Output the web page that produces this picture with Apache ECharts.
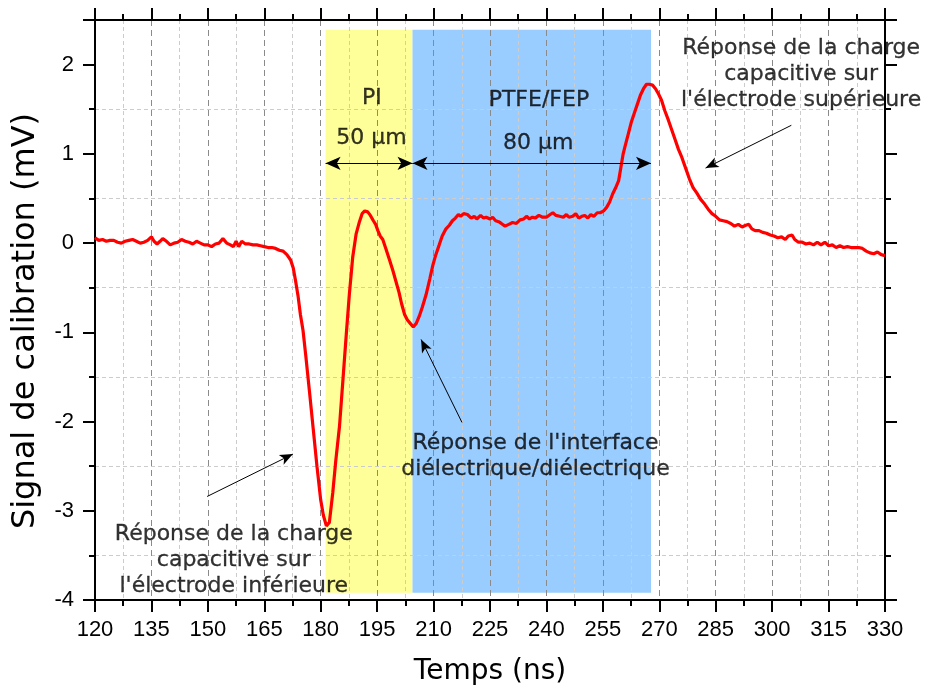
<!DOCTYPE html>
<html>
<head>
<meta charset="utf-8">
<script src="https://cdn.jsdelivr.net/npm/echarts@6/dist/echarts.min.js"></script>
<style>
  html, body { margin: 0; padding: 0; background: #ffffff; }
  #chart { width: 928px; height: 691px; }
</style>
</head>
<body>
<div id="chart"></div>
<script>
// Calibration pulse: time (ns) and measured signal (mV)
const timeNs = [
  120, 121, 122, 123, 124, 125, 126, 127, 128, 129,
  130, 131, 132, 133, 134, 135, 135.7, 136.5, 137.3, 138,
  139, 140, 141, 142, 143, 144, 145, 146, 147, 148,
  149, 150, 151, 152, 153, 154, 155, 156, 156.8, 157.5,
  158.2, 159, 160, 161, 162, 163, 164, 165, 166, 167,
  168, 169, 170, 171, 172, 172.7, 173.3, 174, 174.6, 175.3,
  176, 177, 178, 179, 180, 180.7, 181.5, 182.3, 183.2, 184,
  185, 186, 186.8, 187.6, 188.5, 189.4, 190.3, 191, 191.7, 192.5,
  193.2, 194, 194.6, 195.2, 195.8, 196.5, 197.3, 198.3, 199.2, 200,
  200.8, 201.5, 202.3, 203, 203.8, 204.6, 205.4, 206.2, 207, 208,
  209, 209.8, 210.6, 211.5, 212.3, 213.3, 214.2, 215, 215.8, 216.6,
  217.2, 218, 219, 220, 220.8, 221.5, 222.5, 223.3, 224, 225,
  225.7, 226.5, 227.3, 228, 229, 230, 231, 232, 233, 234,
  234.7, 235.5, 236.3, 237, 238, 239, 240, 241, 241.7, 242.5,
  243.5, 244.5, 245.3, 246, 247, 247.8, 248.6, 249.4, 250.2, 251,
  251.8, 252.6, 253.5, 254.3, 255.2, 256, 256.8, 257.6, 258.4, 259.2,
  259.8, 260.4, 261, 261.8, 262.6, 263.4, 264.2, 265, 265.8, 266.6,
  267.4, 268.2, 269, 269.8, 270.6, 271.5, 272.4, 273.3, 274.2, 275.1,
  276, 277, 278, 279, 280, 281, 282, 283, 284, 285,
  286, 287, 288, 289, 290, 291, 292, 293, 293.8, 294.6,
  295.5, 296.5, 297.5, 298.5, 299.5, 300.5, 301.5, 302.5, 303.5, 304.3,
  305.3, 306, 307, 308, 309, 310, 311, 312, 313, 314,
  315, 316, 317, 318, 319, 320, 321, 322, 323, 324,
  325, 326, 327, 328, 329, 330
];
const signalMv = [
  0.06, 0.03, 0.04, 0.02, 0.03, 0.03, 0.01, 0.00, 0.02, 0.03,
  0.04, 0.02, 0.00, 0.01, 0.03, 0.07, 0.02, -0.01, 0.02, 0.05,
  0.02, -0.02, 0.00, 0.01, 0.04, 0.02, 0.01, -0.01, 0.02, 0.00,
  -0.02, -0.02, -0.04, -0.01, 0.00, 0.05, 0.00, -0.02, -0.04, 0.02,
  -0.04, 0.02, -0.01, -0.01, -0.02, -0.02, -0.03, -0.04, -0.05, -0.05,
  -0.06, -0.08, -0.09, -0.13, -0.19, -0.28, -0.42, -0.60, -0.80, -0.98,
  -1.25, -1.66, -2.08, -2.50, -2.88, -3.05, -3.17, -3.13, -2.80, -2.44,
  -2.05, -1.48, -1.02, -0.58, -0.16, 0.10, 0.24, 0.33, 0.36, 0.35,
  0.31, 0.25, 0.21, 0.14, 0.08, 0.04, -0.06, -0.19, -0.31, -0.43,
  -0.55, -0.68, -0.80, -0.86, -0.90, -0.94, -0.90, -0.82, -0.72, -0.58,
  -0.40, -0.25, -0.13, -0.02, 0.08, 0.16, 0.20, 0.25, 0.28, 0.32,
  0.30, 0.33, 0.32, 0.28, 0.30, 0.27, 0.31, 0.28, 0.29, 0.27,
  0.29, 0.25, 0.24, 0.22, 0.19, 0.21, 0.23, 0.22, 0.26, 0.27,
  0.30, 0.27, 0.29, 0.28, 0.31, 0.29, 0.29, 0.32, 0.34, 0.31,
  0.30, 0.29, 0.32, 0.29, 0.30, 0.33, 0.28, 0.30, 0.31, 0.28,
  0.32, 0.30, 0.34, 0.34, 0.36, 0.40, 0.46, 0.55, 0.62, 0.70,
  0.85, 1.00, 1.10, 1.23, 1.36, 1.46, 1.56, 1.66, 1.73, 1.78,
  1.78, 1.77, 1.73, 1.67, 1.60, 1.48, 1.38, 1.27, 1.16, 1.05,
  0.96, 0.84, 0.72, 0.62, 0.56, 0.49, 0.44, 0.38, 0.33, 0.30,
  0.26, 0.25, 0.24, 0.22, 0.19, 0.21, 0.18, 0.20, 0.21, 0.16,
  0.14, 0.14, 0.12, 0.11, 0.09, 0.08, 0.06, 0.07, 0.04, 0.08,
  0.09, 0.04, 0.01, 0.01, -0.01, 0.00, -0.02, 0.01, -0.02, 0.01,
  -0.03, -0.02, -0.05, -0.03, -0.05, -0.04, -0.05, -0.05, -0.05, -0.06,
  -0.09, -0.11, -0.12, -0.10, -0.13, -0.14
];

// Axis ranges
const xRange = [120, 330];
const xStep = 15;
const yRange = [-4, 2.5];
const yStep = 1;

// Dielectric layers (time span in ns) and vertical extent of the shading (mV)
const layerNames = ['PI', 'PTFE/FEP'];
const layerStartNs = [181.3, 204.4];
const layerEndNs = [204.4, 267.8];
const layerTopMv = 2.39;
const layerBottomMv = -3.92;

// Thickness arrows: spans (ns) drawn at one signal level (mV)
const thicknessLabels = ['50 µm', '80 µm'];
const thicknessArrowMv = 0.894;

// Text labels: [time, signal] anchor of each text block
const noteTexts = [
  'PI',
  '50 µm',
  'PTFE/FEP',
  '80 µm',
  'Réponse de la charge\ncapacitive sur\nl\'électrode supérieure',
  'Réponse de l\'interface\ndiélectrique/diélectrique',
  'Réponse de la charge\ncapacitive sur\nl\'électrode inférieure'
];
const noteTimeNs = [193.6, 193.5, 238.0, 237.8, 307.7, 237.1, 156.9];
const noteSignalMv = [1.62, 1.17, 1.60, 1.12, 1.89, -2.39, -3.56];

// Pointer arrows: tail -> head, in [ns, mV]
const pointerTails = [[305.1, 1.32], [217.55, -2.01], [149.8, -2.84]];
const pointerHeads = [[282.3, 0.84], [206.68, -1.08], [172.6, -2.365]];

const axisTitleX = 'Temps (ns)';
const axisTitleY = 'Signal de calibration (mV)';

const chart = echarts.init(document.getElementById('chart'), null, { renderer: 'canvas' });

const tickFont = '"Liberation Sans", Arial, sans-serif';
const textFont = '"DejaVu Sans", Verdana, sans-serif';

const layerColors = ['#ffff99', '#99ccff'];

const axisCommon = {
  type: 'value',
  z: 2,
  axisLine: { show: true, onZero: false, lineStyle: { color: '#000', width: 2 } },
  axisTick: { show: true, inside: false, length: 12, lineStyle: { color: '#000', width: 2 } },
  minorTick: { show: true, splitNumber: 2, length: 6, lineStyle: { color: '#000', width: 2 } }
};

const signalPoints = timeNs.map((t, i) => [t, signalMv[i]]);

const option = {
  animation: false,
  backgroundColor: '#ffffff',
  grid: { left: 95, right: 43, top: 20, bottom: 88, containLabel: false },
  graphic: [
    {
      type: 'text',
      x: 26,
      y: 321,
      rotation: Math.PI / 2,
      silent: true,
      style: {
        text: axisTitleY,
        fontFamily: textFont,
        fontSize: 32,
        fill: '#000',
        align: 'center',
        verticalAlign: 'middle'
      }
    }
  ],
  xAxis: [
    Object.assign({}, axisCommon, {
      position: 'bottom',
      min: xRange[0], max: xRange[1], interval: xStep,
      name: axisTitleX,
      nameLocation: 'middle',
      nameGap: 58,
      nameTextStyle: { fontFamily: textFont, fontSize: 28, color: '#000' },
      axisLabel: { show: true, margin: 19, fontFamily: tickFont, fontSize: 22, color: '#000' },
      splitLine: { show: true, lineStyle: { color: '#8a8a8a', width: 1, type: [6, 4] } },
      minorSplitLine: { show: true, lineStyle: { color: '#cccccc', width: 1, type: [4, 3] } }
    }),
    Object.assign({}, axisCommon, {
      position: 'top',
      min: xRange[0], max: xRange[1], interval: xStep,
      axisLabel: { show: false },
      splitLine: { show: false }
    })
  ],
  yAxis: [
    Object.assign({}, axisCommon, {
      position: 'left',
      min: yRange[0], max: yRange[1], interval: yStep,
      axisLabel: { show: true, margin: 21, fontFamily: tickFont, fontSize: 22, color: '#000', showMaxLabel: false },
      splitLine: { show: false },
      minorSplitLine: { show: true, lineStyle: { color: '#cccccc', width: 1, type: [4, 3] } }
    }),
    Object.assign({}, axisCommon, {
      position: 'right',
      min: yRange[0], max: yRange[1], interval: yStep,
      axisLabel: { show: false },
      splitLine: { show: false }
    })
  ],
  series: [
    {
      // layer shading
      type: 'line',
      z: 1,
      data: [],
      silent: true,
      markArea: {
        z: 1,
        silent: true,
        label: { show: false },
        data: layerNames.map((n, i) => [
          { name: n, coord: [layerStartNs[i], layerTopMv], itemStyle: { color: layerColors[i], opacity: 1 } },
          { coord: [layerEndNs[i], layerBottomMv] }
        ])
      }
    },
    {
      // signal trace
      type: 'line',
      z: 4,
      data: signalPoints,
      showSymbol: false,
      symbol: 'none',
      smooth: false,
      lineStyle: { color: '#ff0000', width: 3.2 },
      silent: true,
      markLine: {
        z: 5,
        silent: true,
        animation: false,
        label: { show: false },
        emphasis: { disabled: true },
        data: [
          // double-headed thickness arrows
          ...thicknessLabels.map((lbl, i) => [
            { name: lbl, coord: [layerStartNs[i], thicknessArrowMv], symbol: 'arrow', symbolSize: [10, 15] },
            { coord: [layerEndNs[i], thicknessArrowMv], symbol: 'arrow', symbolSize: [10, 15] }
          ]),
          // single-headed pointers
          ...pointerTails.map((tail, i) => [
            { coord: tail, symbol: 'none' },
            { coord: pointerHeads[i], symbol: 'arrow', symbolSize: [8, 13] }
          ])
        ],
        lineStyle: { color: '#000', width: 1, type: 'solid' }
      }
    },
    {
      // annotations
      type: 'scatter',
      z: 6,
      silent: true,
      symbolSize: 0,
      itemStyle: { color: 'transparent' },
      data: noteTexts.map((txt, i) => ({
        value: [noteTimeNs[i], noteSignalMv[i]],
        label: {
          show: true,
          position: 'inside',
          formatter: txt,
          align: 'center',
          verticalAlign: 'middle',
          fontFamily: textFont,
          fontSize: 22,
          lineHeight: 26,
          color: '#000',
          textBorderColor: '#000',
          textBorderWidth: 0.3
        }
      }))
    }
  ]
};

chart.setOption(option);
</script>
</body>
</html>
